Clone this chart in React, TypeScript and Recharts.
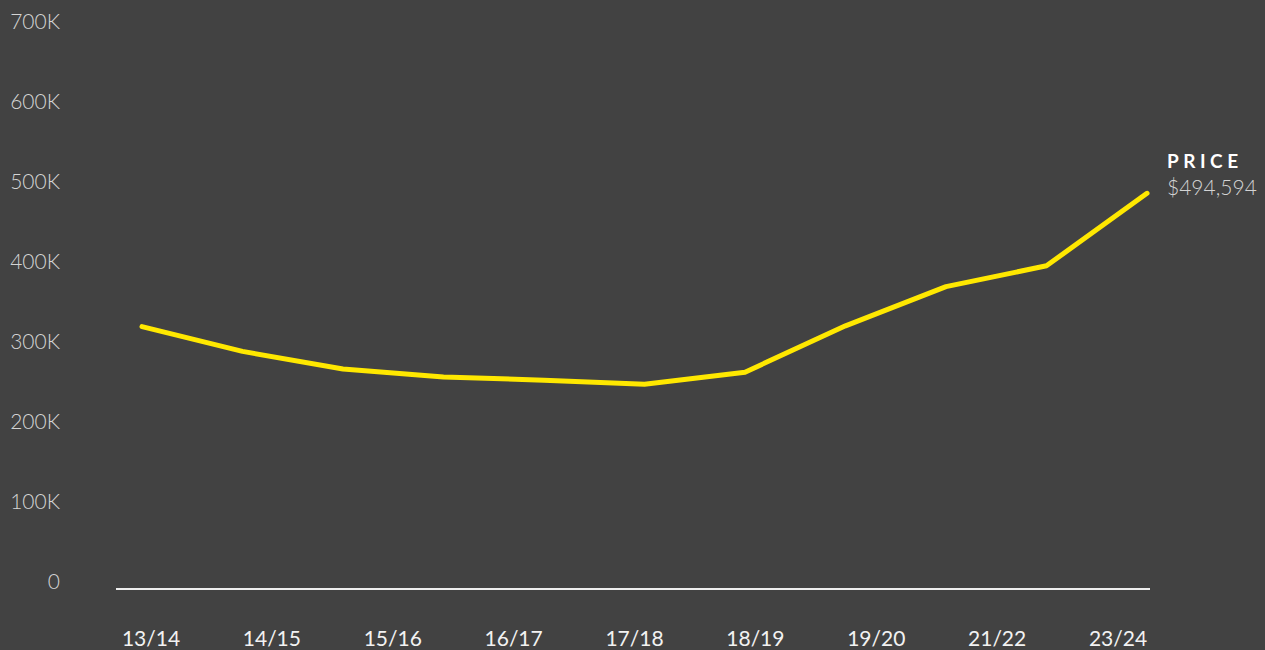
import { Line, LineChart, XAxis, YAxis } from "recharts";

// Median price by financial year
const seasons = [
  "13/14", "14/15", "15/16", "16/17", "17/18", "18/19",
  "19/20", "20/21", "21/22", "22/23", "23/24",
];
const prices = [
  328000, 297000, 275000, 265000, 261000, 256000,
  271000, 329000, 378000, 404000, 494594,
];
// Only some seasons get an axis label, spread evenly along the bottom
const axisLabels = ["13/14", "14/15", "15/16", "16/17", "17/18", "18/19", "19/20", "21/22", "23/24"];
const yTicks = [0, 100000, 200000, 300000, 400000, 500000, 600000, 700000];

const data = seasons.map((season, idx) => ({ idx, season, price: prices[idx] }));

const lastIdx = seasons.length - 1;
const labelStep = lastIdx / (axisLabels.length - 1);
const labelTicks = axisLabels.map((_, i) => i * labelStep);

const BG = "#424242";
const YELLOW = "#FFE800";
const FONT = "Lato, 'Open Sans', sans-serif";

function YTick({ x, y, payload }: any) {
  const v = payload.value as number;
  return (
    <text
      x={x}
      y={y}
      dy={-9}
      textAnchor="end"
      dominantBaseline="central"
      fill="#d4d4d4"
      fontFamily={FONT}
      fontWeight={300}
      fontSize={21}
    >
      {v === 0 ? "0" : `${v / 1000}K`}
    </text>
  );
}

function XTick({ x, y, payload }: any) {
  return (
    <text
      x={x}
      y={y}
      dy={15}
      textAnchor="middle"
      fill="#f2f2f2"
      fontFamily={FONT}
      fontSize={21}
    >
      {axisLabels[Math.round(payload.value / labelStep)]}
    </text>
  );
}

// Series name and latest value next to the final point
function EndLabel({ x, y, index, value }: any) {
  if (index !== lastIdx) return null;
  return (
    <g fontFamily={FONT}>
      <text x={x + 20} y={y - 25} fill="#ffffff" fontSize={19} fontWeight={700} letterSpacing={4.5}>
        PRICE
      </text>
      <text x={x + 20} y={y + 2} fill="#d4d4d4" fontSize={21} fontWeight={300}>
        {`$${Number(value).toLocaleString("en-US")}`}
      </text>
    </g>
  );
}

export default function App() {
  return (
    <div style={{ width: 1265, height: 650, background: BG }}>
      <style>{`body{margin:0;background:${BG}}`}</style>
      <LineChart
        width={1265}
        height={650}
        data={data}
        margin={{ top: 29, right: 115, bottom: 0, left: 0 }}
      >
        <XAxis
          dataKey="idx"
          type="number"
          domain={[0, lastIdx]}
          padding={{ left: 26, right: 3 }}
          height={1}
          tick={false}
          tickLine={false}
          axisLine={{ stroke: "#eeeeee", strokeWidth: 2 }}
        />
        <XAxis
          xAxisId="years"
          dataKey="idx"
          type="number"
          domain={[0, lastIdx]}
          ticks={labelTicks}
          padding={{ left: 35, right: 32 }}
          height={60}
          axisLine={false}
          tickLine={false}
          tickSize={0}
          tickMargin={41}
          tick={<XTick />}
          interval={0}
        />
        <YAxis
          domain={[0, 700000]}
          ticks={yTicks}
          width={116}
          axisLine={false}
          tickLine={false}
          tickSize={0}
          tickMargin={56}
          tick={<YTick />}
          interval={0}
        />
        <Line
          type="linear"
          dataKey="price"
          stroke={YELLOW}
          strokeWidth={5}
          strokeLinecap="round"
          strokeLinejoin="round"
          dot={false}
          label={<EndLabel />}
          isAnimationActive={false}
        />
      </LineChart>
    </div>
  );
}
